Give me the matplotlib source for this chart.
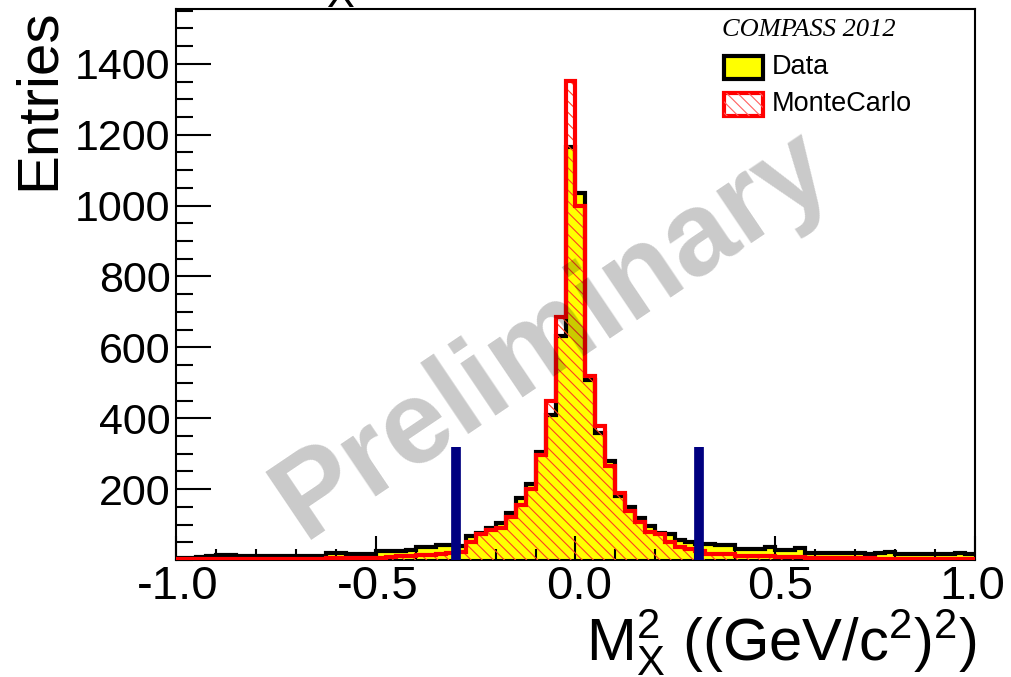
import matplotlib
matplotlib.use("Agg")
import matplotlib.pyplot as plt
import matplotlib.transforms as mtransforms
from matplotlib.patches import Rectangle
from matplotlib.ticker import MultipleLocator, FixedLocator
import numpy as np

# histogram binning: 80 bins of 0.025 between -1 and 1
edges = np.linspace(-1.0, 1.0, 81)

data = [5, 6, 8, 12, 13, 14, 10, 10, 10, 10,
        11, 11, 10, 10, 10, 21, 20, 18, 18, 18,
        26, 26, 26, 28, 38, 38, 42, 42,
        40, 68, 76, 90, 105, 132, 174, 215, 305, 408, 633, 1165,
        1035, 508, 358, 278, 182, 150, 118, 97, 77, 72, 57, 52,
        46, 45, 42, 42, 31, 31, 31, 38, 28, 28, 33, 21,
        20, 20, 19, 21, 20, 18, 19, 22, 18, 17, 18, 16, 18, 17, 20, 16]

montecarlo = [2, 2, 2, 3, 3, 3, 3, 3, 3, 3,
              3, 4, 4, 4, 4, 5, 5, 5, 5, 6,
              7, 9, 10, 11, 14, 15, 18, 20,
              22, 52, 74, 84, 90, 120, 155, 200, 295, 450, 687, 1352,
              1000, 520, 377, 266, 188, 138, 107, 80, 73, 50, 38, 32,
              24, 18, 17, 16, 12, 12, 11, 11, 9, 9, 9, 7,
              6, 6, 5, 5, 5, 5, 4, 4, 4, 4, 4, 4, 3, 3, 3, 3]

cut_lo, cut_hi = -0.30, 0.31
cut_height = 320
yticks = [200, 400, 600, 800, 1000, 1200, 1400]
xticks = [-1.0, -0.5, 0.0, 0.5, 1.0]
xtick_labels = ['-1.0', '-0.5', '0.0', '0.5', '1.0']
xtick_shift = [2, 2, 4, 5, -3]   # ROOT nudges the labels a bit (pixels)

plt.rcParams['font.family'] = ['Liberation Sans', 'DejaVu Sans']
plt.rcParams['mathtext.fontset'] = 'custom'
plt.rcParams['mathtext.rm'] = 'Liberation Sans'
plt.rcParams['mathtext.it'] = 'Liberation Sans:italic'
plt.rcParams['hatch.linewidth'] = 0.8

W, H = 1012, 677
fig = plt.figure(figsize=(W / 100, H / 100), dpi=100)


def fx(px):
    return px / W


def fy(py):
    return 1 - py / H


ax = fig.add_axes([fx(176), fy(560), fx(975) - fx(176), fy(9) - fy(560)])

# data: yellow fill, black outline
ax.stairs(data, edges, fill=True, color='#ffff00', zorder=1)
ax.stairs(data, edges, baseline=None, color='black', lw=3, zorder=2)

# monte carlo: red hatch + red outline
ax.stairs(montecarlo, edges, fill=True, facecolor='none', edgecolor='#ff4020',
          hatch='\\\\\\', lw=0, zorder=3)
ax.stairs(montecarlo, edges, baseline=None, color='#ff0000', lw=3, zorder=4)

# cut lines
ax.vlines([cut_lo, cut_hi], 0, cut_height, color='#000080', lw=7, zorder=5)

ax.set_xlim(-1.0, 1.0)
ax.set_ylim(0, 1.15 * max(montecarlo))

ax.xaxis.set_major_locator(FixedLocator(xticks))
ax.xaxis.set_minor_locator(MultipleLocator(0.1))
ax.yaxis.set_major_locator(FixedLocator(yticks))
ax.yaxis.set_minor_locator(MultipleLocator(50))
ax.set_xticklabels([])
ax.tick_params(axis='both', which='both', direction='in', top=False, right=False,
               width=1.5, color='black')
ax.tick_params(axis='x', which='major', length=17)
ax.tick_params(axis='x', which='minor', length=8)
ax.tick_params(axis='y', which='major', length=25, labelsize=31, pad=4)
ax.tick_params(axis='y', which='minor', length=12)
for s in ax.spines.values():
    s.set_linewidth(1.5)

# x tick labels, placed by hand so they can be nudged like in ROOT
xtrans = ax.get_xaxis_transform()
for v, lab, dx in zip(xticks, xtick_labels, xtick_shift):
    tr = mtransforms.offset_copy(xtrans, fig=fig, x=dx, y=-5, units='dots')
    ax.text(v, 0, lab, transform=tr, ha='center', va='top', fontsize=34, clip_on=False)

# axis titles
fig.text(fx(66), fy(8), 'Entries', rotation=90, ha='right', va='top', fontsize=42)
fig.text(fx(977), fy(660), r'$\mathregular{M_{X}^{2}}$ ((GeV/c$^{\mathregular{2}}$)$^{\mathregular{2}}$)',
         ha='right', va='baseline', fontsize=43)

# clipped histogram title at the very top
fig.text(fx(340), fy(7), 'X', ha='center', va='baseline', fontsize=30)

# legend
fig.text(fx(722), fy(30), 'COMPASS 2012', family='Liberation Serif', style='italic',
         fontsize=19, ha='left', va='center')
fig.patches.append(Rectangle((fx(724), fy(79)), fx(763) - fx(724), fy(56) - fy(79),
                             transform=fig.transFigure, facecolor='#ffff00',
                             edgecolor='black', lw=3, figure=fig))
fig.patches.append(Rectangle((fx(724), fy(116)), fx(763) - fx(724), fy(93) - fy(116),
                             transform=fig.transFigure, facecolor='white',
                             edgecolor='#ff0000', lw=3, figure=fig))
fig.patches.append(Rectangle((fx(724), fy(116)), fx(763) - fx(724), fy(93) - fy(116),
                             transform=fig.transFigure, facecolor='none',
                             edgecolor='#ff6060', hatch='\\\\\\', lw=0, figure=fig))
fig.text(fx(772), fy(67), 'Data', fontsize=19.5, ha='left', va='center')
fig.text(fx(772), fy(104), 'MonteCarlo', fontsize=19.5, ha='left', va='center')

# watermark
fig.text(fx(553), fy(335), 'Preliminary', rotation=34, fontsize=85, weight='bold',
         color='black', alpha=0.21, ha='center', va='center', zorder=10)

fig.savefig('out.png', dpi=100)
